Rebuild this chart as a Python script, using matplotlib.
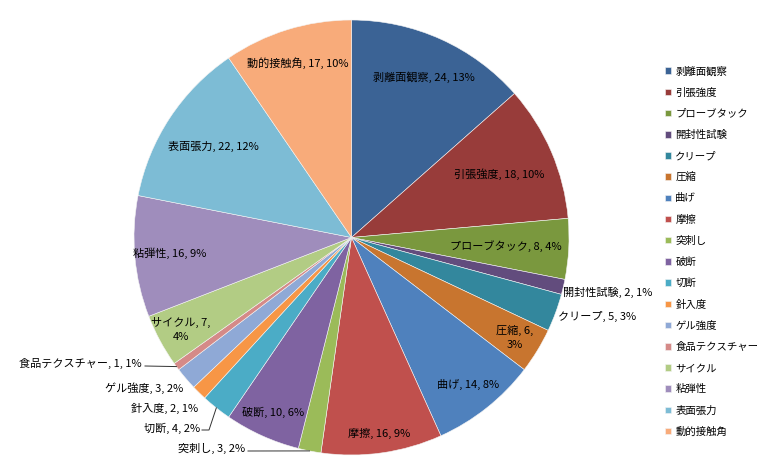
import numpy as np
import matplotlib
matplotlib.use('Agg')
import matplotlib.pyplot as plt

plt.rcParams['font.family'] = ['Noto Sans CJK JP', 'DejaVu Sans']

labels = ['剥離面観察', '引張強度', 'プローブタック', '開封性試験', 'クリープ', '圧縮',
          '曲げ', '摩擦', '突刺し', '破断', '切断', '針入度',
          'ゲル強度', '食品テクスチャー', 'サイクル', '粘弾性', '表面張力', '動的接触角']
values = [24, 18, 8, 2, 5, 6, 14, 16, 3, 10, 4, 2, 3, 1, 7, 16, 22, 17]
colors = ['#3B6395', '#983C3A', '#7A983E', '#624C7D', '#33879D', '#C8752F',
          '#4F81BD', '#C0504D', '#9BBB59', '#7F63A1', '#4BACC6', '#F79646',
          '#8FA9D6', '#D58A88', '#B2CC84', '#9F8DBC', '#7DBCD5', '#F8AB7A']

W, H = 770, 461
cx, cy, R = 351.5, H - 237.5, 217.5

# radial factor for labels drawn inside the slices (None -> outside label)
inside_r = [0.81, 0.74, 0.71, None, None, 0.88, 0.86, 0.91, None, 0.88,
            None, None, None, None, 0.89, 0.84, 0.76, 0.84]
two_line = {5, 14}
# outside labels: (x, y, ha, leader) in pixel space, y from top
outside = {
    3: (563, 292, 'left', False),
    4: (558, 316, 'left', False),
    8: (245, 448, 'right', True),
    10: (200, 428, 'right', True),
    11: (198, 408, 'right', False),
    12: (183, 388, 'right', False),
    13: (142, 363, 'right', True),
}

fig = plt.figure(figsize=(W / 100, H / 100), dpi=100)
ax = fig.add_axes([0, 0, 1, 1])
wedges, _ = ax.pie(values, colors=colors, startangle=90, counterclock=False,
                   center=(cx, cy), radius=R,
                   wedgeprops=dict(linewidth=0.4, edgecolor='#f4f4f4'))
ax.set_xlim(0, W)
ax.set_ylim(0, H)
ax.set_aspect('equal')
ax.axis('off')

total = sum(values)
fs = 8
for i, (w, v) in enumerate(zip(wedges, values)):
    pct = int(round(v * 100.0 / total))
    mid = np.deg2rad((w.theta1 + w.theta2) / 2.0)
    if inside_r[i] is not None:
        if i in two_line:
            txt = '%s, %d,\n%d%%' % (labels[i], v, pct)
        else:
            txt = '%s, %d, %d%%' % (labels[i], v, pct)
        r = inside_r[i] * R
        ax.text(cx + r * np.cos(mid), cy + r * np.sin(mid), txt,
                ha='center', va='center', fontsize=fs, linespacing=1.5)
    else:
        tx, ty, ha, leader = outside[i]
        ty = H - ty
        txt = '%s, %d, %d%%' % (labels[i], v, pct)
        ax.text(tx, ty, txt, ha=ha, va='center', fontsize=fs)
        if leader:
            ex, ey = cx + R * np.cos(mid), cy + R * np.sin(mid)
            if i == 10:
                ax.plot([tx + 2, tx + 9, ex], [ty - 2, ty - 2, ey],
                        color='#333333', lw=0.7)
            else:
                ax.plot([tx + 3, ex], [ty - 3, ey], color='#333333', lw=0.7)

ax.legend(wedges, labels, loc='upper left', bbox_to_anchor=(665 / W, 1 - 66 / H),
          frameon=False, fontsize=7.5, handlelength=0.6, handleheight=0.6,
          handletextpad=0.4, labelspacing=1.07, borderaxespad=0, borderpad=0)

fig.savefig('out.png', dpi=100)
